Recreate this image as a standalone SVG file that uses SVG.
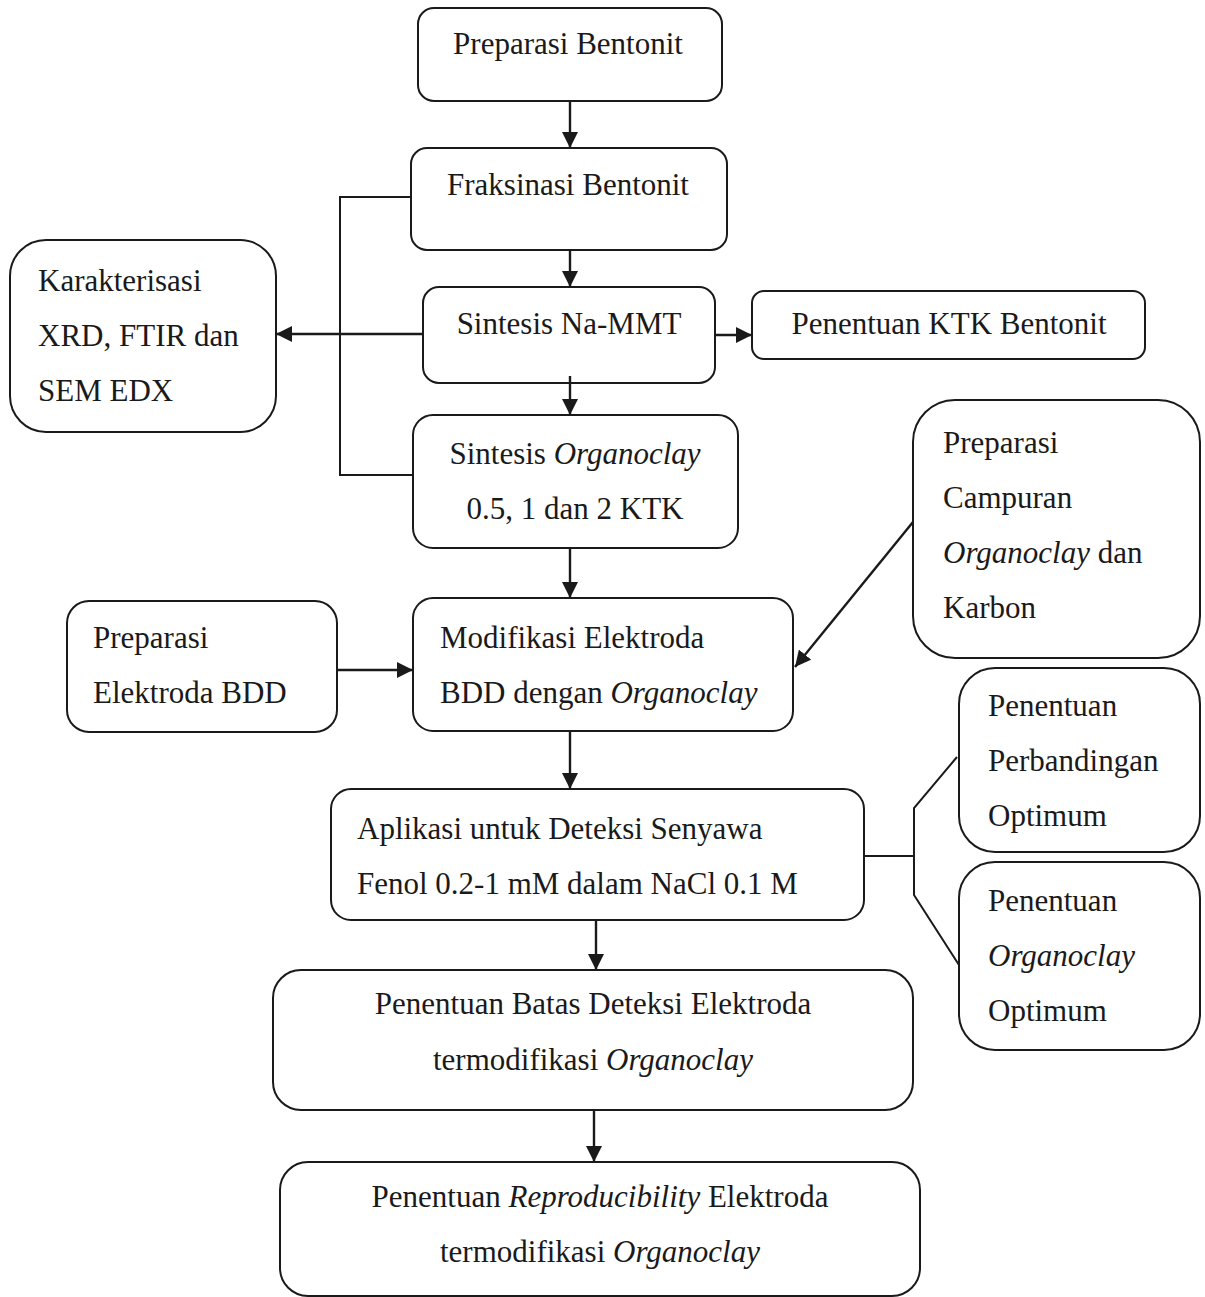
<svg xmlns="http://www.w3.org/2000/svg" width="1205" height="1297" viewBox="0 0 1205 1297">
  <style>
    .box { fill: none; stroke: #1a1a1a; stroke-width: 2; }
    .lbl { font-family: "Liberation Serif", "Times New Roman", serif; font-size: 31px; fill: #1a1a1a; }
    .mid { text-anchor: middle; }
    .it { font-style: italic; }
    .conn { fill: none; stroke: #1a1a1a; stroke-width: 2.4; }
    .thin { fill: none; stroke: #1a1a1a; stroke-width: 2; }
  </style>
  <defs>
    <marker id="arrow" viewBox="0 0 16 16" refX="16" refY="8" markerWidth="16" markerHeight="16" markerUnits="userSpaceOnUse" orient="auto">
      <path d="M0,0 L16,8 L0,16 Z" fill="#1a1a1a"/>
    </marker>
  </defs>
  <rect width="1205" height="1297" fill="#ffffff"/>

  <!-- connectors -->
  <g id="connectors">
    <line class="conn" x1="570" y1="101" x2="570" y2="148" marker-end="url(#arrow)"/>
    <line class="conn" x1="570" y1="250" x2="570" y2="287" marker-end="url(#arrow)"/>
    <line class="conn" x1="423" y1="334" x2="276" y2="334" marker-end="url(#arrow)"/>
    <line class="conn" x1="716" y1="335" x2="752" y2="335" marker-end="url(#arrow)"/>
    <line class="conn" x1="570" y1="376" x2="570" y2="415" marker-end="url(#arrow)"/>
    <line class="conn" x1="570" y1="548" x2="570" y2="598" marker-end="url(#arrow)"/>
    <line class="conn" x1="337" y1="670" x2="413" y2="670" marker-end="url(#arrow)"/>
    <line class="conn" x1="913" y1="522" x2="795" y2="667" marker-end="url(#arrow)"/>
    <line class="conn" x1="570" y1="731" x2="570" y2="789" marker-end="url(#arrow)"/>
    <line class="conn" x1="596" y1="920" x2="596" y2="970" marker-end="url(#arrow)"/>
    <line class="conn" x1="594" y1="1110" x2="594" y2="1162" marker-end="url(#arrow)"/>
    <!-- feedback bracket from fractionation to organoclay synthesis -->
    <polyline class="thin" points="411,197 340,197 340,475 413,475"/>
    <!-- branch from application to the two optimisation steps -->
    <polyline class="thin" points="864,856 914,856"/>
    <polyline class="thin" points="957,757 914,808 914,895 959,965"/>
  </g>

  <g id="preparasi-bentonit">
    <rect class="box" x="418" y="8" width="304" height="93" rx="16"/>
    <text class="lbl mid" x="568" y="54">Preparasi Bentonit</text>
  </g>

  <g id="fraksinasi-bentonit">
    <rect class="box" x="411" y="148" width="316" height="102" rx="16"/>
    <text class="lbl mid" x="568" y="195">Fraksinasi Bentonit</text>
  </g>

  <g id="sintesis-na-mmt">
    <rect class="box" x="423" y="287" width="292" height="96" rx="16"/>
    <text class="lbl mid" x="569" y="334">Sintesis Na-MMT</text>
  </g>

  <g id="karakterisasi">
    <rect class="box" x="10" y="240" width="266" height="192" rx="36"/>
    <text class="lbl" x="38" y="291">Karakterisasi</text>
    <text class="lbl" x="38" y="346">XRD, FTIR dan</text>
    <text class="lbl" x="38" y="401">SEM EDX</text>
  </g>

  <g id="penentuan-ktk">
    <rect class="box" x="752" y="291" width="393" height="68" rx="12"/>
    <text class="lbl mid" x="949" y="334">Penentuan KTK Bentonit</text>
  </g>

  <g id="sintesis-organoclay">
    <rect class="box" x="413" y="415" width="325" height="133" rx="20"/>
    <text class="lbl mid" x="575" y="464">Sintesis <tspan class="it">Organoclay</tspan></text>
    <text class="lbl mid" x="575" y="519">0.5, 1 dan 2 KTK</text>
  </g>

  <g id="modifikasi-elektroda">
    <rect class="box" x="413" y="598" width="380" height="133" rx="20"/>
    <text class="lbl" x="440" y="648">Modifikasi Elektroda</text>
    <text class="lbl" x="440" y="703">BDD dengan <tspan class="it">Organoclay</tspan></text>
  </g>

  <g id="preparasi-elektroda">
    <rect class="box" x="67" y="601" width="270" height="131" rx="22"/>
    <text class="lbl" x="93" y="648">Preparasi</text>
    <text class="lbl" x="93" y="703">Elektroda BDD</text>
  </g>

  <g id="preparasi-campuran">
    <rect class="box" x="913" y="400" width="287" height="258" rx="42"/>
    <text class="lbl" x="943" y="453">Preparasi</text>
    <text class="lbl" x="943" y="508">Campuran</text>
    <text class="lbl" x="943" y="563"><tspan class="it">Organoclay</tspan> dan</text>
    <text class="lbl" x="943" y="618">Karbon</text>
  </g>

  <g id="aplikasi-deteksi">
    <rect class="box" x="331" y="789" width="533" height="131" rx="20"/>
    <text class="lbl" x="357" y="839">Aplikasi untuk Deteksi Senyawa</text>
    <text class="lbl" x="357" y="894">Fenol 0.2-1 mM dalam NaCl 0.1 M</text>
  </g>

  <g id="penentuan-perbandingan">
    <rect class="box" x="959" y="668" width="241" height="184" rx="36"/>
    <text class="lbl" x="988" y="716">Penentuan</text>
    <text class="lbl" x="988" y="771">Perbandingan</text>
    <text class="lbl" x="988" y="826">Optimum</text>
  </g>

  <g id="penentuan-organoclay">
    <rect class="box" x="959" y="862" width="241" height="188" rx="36"/>
    <text class="lbl" x="988" y="911">Penentuan</text>
    <text class="lbl it" x="988" y="966">Organoclay</text>
    <text class="lbl" x="988" y="1021">Optimum</text>
  </g>

  <g id="batas-deteksi">
    <rect class="box" x="273" y="970" width="640" height="140" rx="28"/>
    <text class="lbl mid" x="593" y="1014">Penentuan Batas Deteksi Elektroda</text>
    <text class="lbl mid" x="593" y="1070">termodifikasi <tspan class="it">Organoclay</tspan></text>
  </g>

  <g id="reproducibility">
    <rect class="box" x="280" y="1162" width="640" height="134" rx="28"/>
    <text class="lbl mid" x="600" y="1207">Penentuan <tspan class="it">Reproducibility</tspan> Elektroda</text>
    <text class="lbl mid" x="600" y="1262">termodifikasi <tspan class="it">Organoclay</tspan></text>
  </g>
</svg>
